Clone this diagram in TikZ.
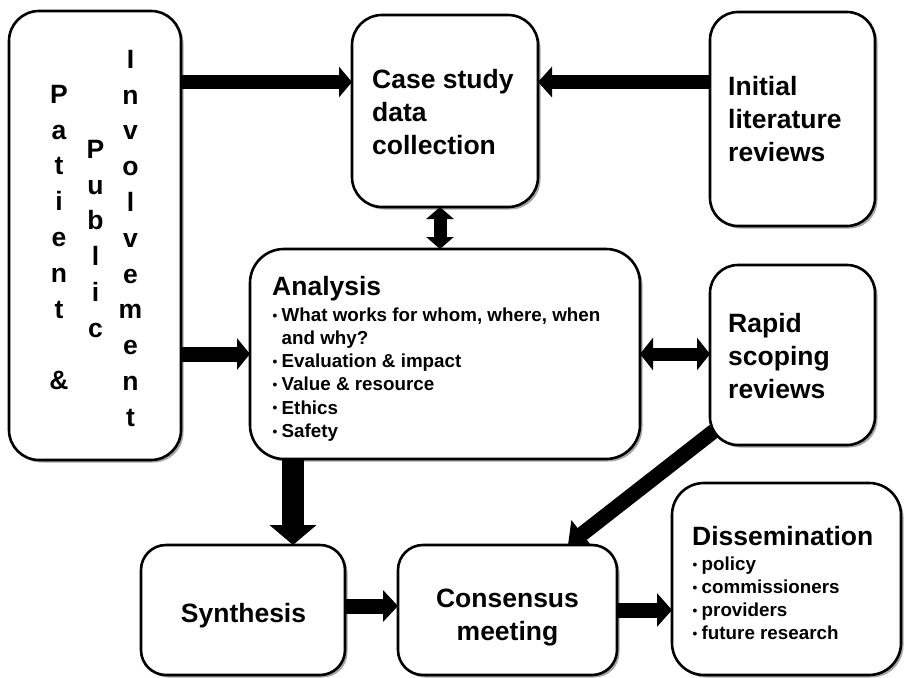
\documentclass[tikz,border=0pt]{standalone}
\usepackage{fontspec}
\setmainfont{Liberation Sans}
\usetikzlibrary{arrows.meta,shadows,backgrounds}
\newcommand\blt{\makebox[9.5pt][l]{\hspace*{0.5pt}\raisebox{1.2pt}{\fontsize{13.5}{13.5}\selectfont •}}}
\newcommand\hd{\rule{0pt}{21pt}}
\newcommand\sm{\rule{0pt}{15pt}}
\tikzset{
  pbox/.style={draw, line width=2.6pt, fill=white, rounded corners=#1, inner sep=0pt, outer sep=0pt,
    anchor=north west, drop shadow={shadow xshift=2.5pt, shadow yshift=-2.5pt, opacity=0.35, fill=black}},
  pbox/.default=30pt,
  bigtxt/.style={inner sep=0pt, font=\bfseries\fontsize{26.5}{33}\selectfont, align=left},
  coltxt/.style={inner sep=0pt, anchor=north, font=\bfseries\fontsize{26.5}{35.8}\selectfont, align=center},
  smtxt/.style={inner sep=0pt, anchor=north west, font=\bfseries\fontsize{18.8}{23.2}\selectfont, align=left},
  barrow/.style args={#1/#2/#3}{line width=#1pt, -{Triangle[width=#2pt,length=#3pt]}},
  dbarrow/.style args={#1/#2/#3}{line width=#1pt, {Triangle[width=#2pt,length=#3pt]}-{Triangle[width=#2pt,length=#3pt]}}
}
\begin{document}
\begin{tikzpicture}[x=1pt,y=-1pt]
\useasboundingbox (0,0) rectangle (907,677);
% boxes
\node[pbox, minimum width=172, minimum height=449] (ppi) at (9,11) {};
\node[pbox, minimum width=186, minimum height=192] (case) at (352,15) {};
\node[pbox=28pt, minimum width=165, minimum height=214] (init) at (710,12) {};
\node[pbox=34pt, minimum width=390, minimum height=210] (ana) at (250,249) {};
\node[pbox=28pt, minimum width=165, minimum height=180] (rapid) at (710,265) {};
\node[pbox=25pt, minimum width=204, minimum height=130] (synth) at (141,545) {};
\node[pbox=25pt, minimum width=219, minimum height=130] (cons) at (398,545) {};
\node[pbox=32pt, minimum width=229, minimum height=192] (diss) at (672,483) {};
% texts
\node[coltxt] (patient) at (59,82) {\hd P\\a\\t\\i\\e\\n\\t\\\mbox{}\\\&};
\node[coltxt] (public) at (95.5,137) {\hd P\\u\\b\\l\\i\\c};
\node[coltxt] (involve) at (130.5,47) {\hd I\\n\\v\\o\\l\\v\\e\\m\\e\\n\\t};
\node[bigtxt, anchor=north west] (caset) at (372,67) {\hd Case study\\data\\collection};
\node[bigtxt, anchor=north west] (initt) at (728,74) {\hd Initial\\literature\\reviews};
\node[bigtxt, anchor=north west] (rapidt) at (728,311) {\hd Rapid\\scoping\\reviews};
\node[bigtxt, anchor=base west] (anat) at (272,295) {Analysis};
\node[smtxt] (anal) at (272,306) {\sm\blt What works for whom, where, when\\\hspace*{9.5pt}and why?\\\blt Evaluation \& impact\\\blt Value \& resource\\\blt Ethics\\\blt Safety};
\node[bigtxt, anchor=base] (syntht) at (243.5,622) {Synthesis};
\node[bigtxt, anchor=north, align=center] (const) at (507.5,586) {\hd Consensus\\meeting};
\node[bigtxt, anchor=base west] (disst) at (692,545) {Dissemination};
\node[smtxt] (dissl) at (692,555) {\sm\blt policy\\\blt commissioners\\\blt providers\\\blt future research};
% helper coordinates
\coordinate (r1) at (0,82);
\coordinate (c4) at (440,0);
\coordinate (c6) at (293,0);
\coordinate (r7) at (0,606);
\coordinate (r9) at (0,610);
% arrows
\begin{scope}[on background layer]
\draw[barrow=14/30/13] (ppi.east |- r1) -- (case.west |- r1);
\draw[barrow=14/30/14] (init.west |- r1) -- (case.east |- r1);
\draw[barrow=15/31/13] (ppi.east |- ana.west) -- (ana.west);
\draw[dbarrow=13/27/12] (case.south -| c4) -- (ana.north -| c4);
\draw[dbarrow=13/32/13] (ana.east) -- (ana.east -| rapid.west);
\draw[barrow=22/46/20] (ana.south -| c6) -- (synth.north -| c6);
\draw[barrow=15/31/15] (synth.east |- r7) -- (cons.west |- r7);
\draw[barrow=15/34/18] ([xshift=4pt,yshift=14pt]rapid.south west) -- ([xshift=60.5pt]cons.north);
\draw[barrow=15/33/15] (cons.east |- r9) -- (diss.west |- r9);
\end{scope}
\end{tikzpicture}
\end{document}
